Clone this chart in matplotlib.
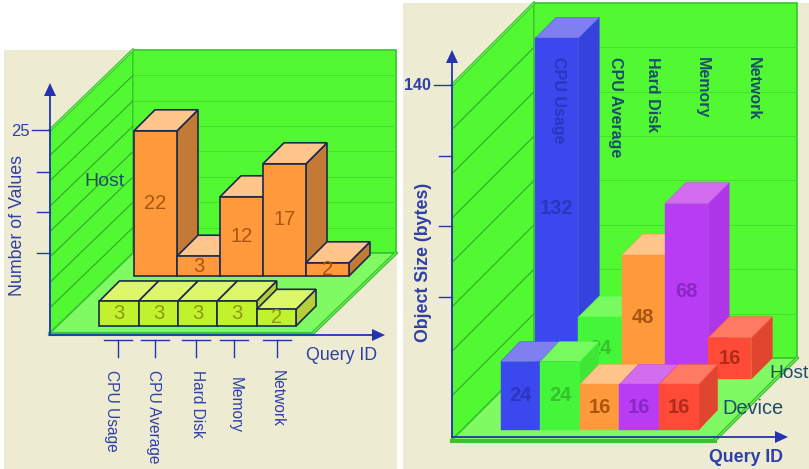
import matplotlib
matplotlib.use("Agg")
import matplotlib.pyplot as plt
from matplotlib.patches import Polygon, Rectangle

plt.rcParams["font.family"] = ["Liberation Sans", "DejaVu Sans"]

# left chart: number of values
categories = ["CPU Usage", "CPU Average", "Hard Disk", "Memory", "Network"]
host_counts = [22, 3, 12, 17, 2]
device_counts = [3, 3, 3, 3, 2]
count_tick_label = "25"

# right chart: object size
host_sizes = [132, 24, 48, 68, 16]
device_sizes = [24, 24, 16, 16, 16]
size_tick_label = "140"

BEIGE = "#EEEBD3"
WALL = "#52F832"
FLOOR = "#80FA62"
EDGE = "#38C42E"
AXIS_BLUE = "#2433B0"
LABEL_BLUE = "#2F3FA8"
TEAL = "#1B4E6B"

ORANGE = ("#FF9A3C", "#FFC58A", "#C27A35")
LIME = ("#C2F22E", "#DDF76A", "#B5CF38")
BLUE = ("#3B48EE", "#7F7FF0", "#3642DE")
GREEN = ("#45F53A", "#78FB5E", "#40E636")
PURPLE = ("#B93CF5", "#D46CEF", "#AE36E8")
RED = ("#FF4A38", "#FF7A62", "#E0452F")

fig = plt.figure(figsize=(8.09, 4.69), dpi=100, facecolor="white")
ax = fig.add_axes([0, 0, 1, 1])
ax.set_xlim(0, 809)
ax.set_ylim(469, 0)
ax.axis("off")


def draw_bars(values, colors, left, base, step, scale, dx, dy, text_colors, weight, edge=None, z=10):
    # oblique boxes, painted left to right so nearer faces cover the side walls
    for i, v in enumerate(values):
        x0 = left + i * step
        x1 = x0 + step
        top = base - v * scale
        front, lid, side = colors[i]
        ec = edge if edge else front
        lw = 1.2 if edge else 0.3
        ax.add_patch(Polygon([(x1, base), (x1 + dx, base - dy), (x1 + dx, top - dy), (x1, top)],
                             fc=side, ec=ec, lw=lw, zorder=z))
        ax.add_patch(Polygon([(x0, top), (x1, top), (x1 + dx, top - dy), (x0 + dx, top - dy)],
                             fc=lid, ec=ec, lw=lw, zorder=z))
        ax.add_patch(Rectangle((x0, top), step, v * scale, fc=front, ec=ec, lw=lw, zorder=z))
        ax.text((x0 + x1) / 2, (top + base) / 2, str(v), color=text_colors[i], fontsize=14.5,
                fontweight=weight, ha="center", va="center", zorder=z)
        z += 1


def draw_room(x0, y0, width, height, dx, dy):
    xb, yb = x0 + dx, y0 - dy
    ax.add_patch(Polygon([(x0, y0), (xb, yb), (xb, yb - height), (x0, y0 - height)],
                         fc=WALL, ec=EDGE, lw=1.2, zorder=1))
    ax.add_patch(Rectangle((xb, yb - height), width, height, fc=WALL, ec=EDGE, lw=1.2, zorder=1))
    ax.add_patch(Polygon([(x0, y0), (x0 + width, y0), (xb + width, yb), (xb, yb)],
                         fc=FLOOR, ec=EDGE, lw=1.2, zorder=2))
    # wall grid, eight divisions up the height
    for k in range(1, 8):
        y = height * k / 8
        ax.plot([xb, xb + width], [yb - y, yb - y], color="#44E02C", lw=0.7, zorder=1.5)
        ax.plot([x0, xb], [y0 - y, yb - y], color="#2FA828", lw=0.8, zorder=1.5)
    ax.plot([xb, xb], [yb, yb - height], color="#44E02C", lw=0.8, zorder=1.5)
    # doubled rim along the open edges of the room
    ax.plot([x0, xb], [y0 - height, yb - height], color=EDGE, lw=2.2, zorder=1.6)
    ax.plot([x0, xb], [y0 - height, yb - height], color="#8CF870", lw=0.6, zorder=1.7)
    ax.plot([x0 + width, xb + width], [y0, yb], color=EDGE, lw=2.6, zorder=3)
    ax.plot([x0 + width, xb + width], [y0, yb], color="#8CF870", lw=0.6, zorder=3.1)
    ax.plot([x0, x0 + width], [y0 + 1, y0 + 1], color=EDGE, lw=3, zorder=3)


def draw_axes(x0, y0, tip, right, ticks):
    ax.plot([x0, x0], [y0, tip + 8], color=AXIS_BLUE, lw=1.3, zorder=4)
    ax.plot([x0, right - 8], [y0, y0], color=AXIS_BLUE, lw=1.3, zorder=4)
    ax.add_patch(Polygon([(x0, tip), (x0 - 6, tip + 13), (x0 + 6, tip + 13)], fc=AXIS_BLUE, ec="none", zorder=4))
    ax.add_patch(Polygon([(right, y0), (right - 13, y0 - 6), (right - 13, y0 + 6)], fc=AXIS_BLUE, ec="none", zorder=4))
    for i, y in enumerate(ticks):
        ax.plot([x0 - (18 if i == 0 else 13), x0], [y, y], color=AXIS_BLUE, lw=1.0, zorder=4)


# left panel
ax.add_patch(Rectangle((4, 50), 393, 419, fc=BEIGE, ec="none", zorder=0))
draw_room(50, 333, 263, 203, 83, 80)
draw_axes(50, 335, 83, 385, [130, 172, 212, 253])

draw_bars(host_counts, [ORANGE] * 5, 134, 276, 43, 6.6, 21, 21, ["#A8560F"] * 5, "normal", edge="#1C2A4C", z=10)
draw_bars(device_counts, [LIME] * 5, 99.5, 326, 39.3, 8.35, 20, 20, ["#8C9A12"] * 5, "normal", edge="#1C2A4C", z=20)

ax.text(20, 131, count_tick_label, color=LABEL_BLUE, fontsize=12, ha="center", va="center")
ax.text(18, 225, "Number of Values", color=LABEL_BLUE, fontsize=12.8, rotation=90, ha="center", va="center")
ax.text(342, 355, "Query ID", color=LABEL_BLUE, fontsize=12.8, ha="center", va="center")
ax.text(105, 182, "Host", color=TEAL, fontsize=14, ha="center", va="center", zorder=30)

count_tick_x = [118, 155, 196, 234, 277]
count_label_x = [111, 154, 198, 235, 277]
count_label_y = [370, 370, 370, 377, 370]
for name, tx, lx, ly in zip(categories, count_tick_x, count_label_x, count_label_y):
    ax.plot([tx - 14, tx + 14], [340, 340], color=AXIS_BLUE, lw=1.0, zorder=4)
    ax.plot([tx, tx], [340, 357], color=AXIS_BLUE, lw=1.0, zorder=4)
    ax.text(lx, ly, name, color=LABEL_BLUE, fontsize=11.2, rotation=-90, ha="center", va="top", zorder=4)

# right panel
ax.add_patch(Rectangle((403, 3), 406, 466, fc=BEIGE, ec="none", zorder=0))
draw_room(452, 440, 263, 355, 82, 82)
draw_axes(452, 437, 50, 788, [85, 156, 226, 297])

wall_label_x = [559, 616, 653, 702, 753]
wall_label_colors = ["#2A35C0", TEAL, TEAL, TEAL, TEAL]
for name, lx, c in zip(categories, wall_label_x, wall_label_colors):
    ax.text(lx, 57, name, color=c, fontsize=11.5, fontweight="bold", rotation=-90, ha="center", va="top",
            zorder=5 if name != "CPU Usage" else 11)

value_colors = ["#2A35C0", "#35C02C", "#A8560F", "#8A25C8", "#B02A1A"]
draw_bars(host_sizes, [BLUE, GREEN, ORANGE, PURPLE, RED], 535, 379, 43.3, 2.58, 21, 21, value_colors, "bold", z=6)
draw_bars(device_sizes, [BLUE, GREEN, ORANGE, PURPLE, RED], 500.7, 430, 39.6, 2.85, 19, 20, value_colors, "bold", z=20)

ax.text(417, 85, size_tick_label, color=LABEL_BLUE, fontsize=11.5, fontweight="bold", ha="center", va="center")
ax.text(424, 262, "Object Size (bytes)", color=LABEL_BLUE, fontsize=12.8, fontweight="bold", rotation=90,
        ha="center", va="center")
ax.text(746, 457, "Query ID", color=LABEL_BLUE, fontsize=12.8, fontweight="bold", ha="center", va="center")
ax.text(769, 373, "Host", color=TEAL, fontsize=13.8, ha="left", va="center", zorder=30)
ax.text(753, 408, "Device", color=TEAL, fontsize=14.4, ha="center", va="center", zorder=30)

fig.savefig("out.png", dpi=100, facecolor="white")
